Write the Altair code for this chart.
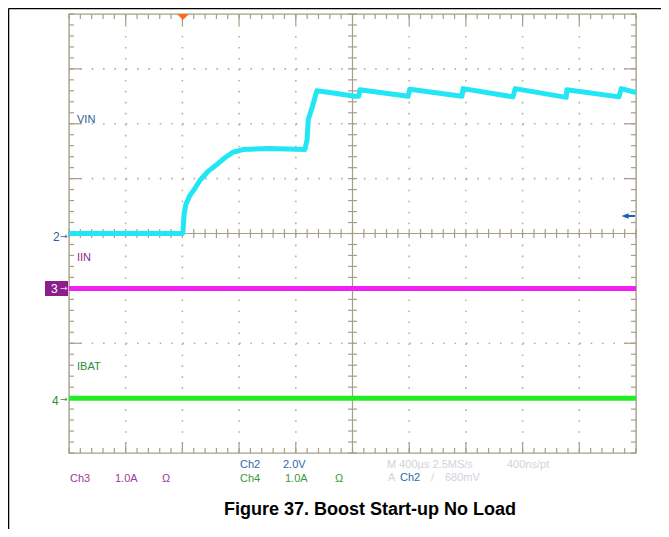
import altair as alt
import pandas as pd

# ---- data (scope divisions: time 0..10 div, amplitude -4..4 div) ----
VIN_T = [0.00, 2.00, 2.01, 2.03, 2.06, 2.13, 2.22, 2.31, 2.45, 2.61, 2.75, 2.89, 3.07,
         3.54, 4.16, 4.20, 4.22, 4.29, 4.37, 4.60, 5.04, 5.11, 5.13, 5.98, 6.01, 6.93,
         6.95, 7.83, 7.87, 8.77, 8.78, 9.70, 9.74, 10.00]
VIN_V = [0.00, 0.00, 0.04, 0.35, 0.53, 0.69, 0.82, 0.97, 1.13, 1.26, 1.38, 1.48, 1.53,
         1.55, 1.53, 1.71, 2.08, 2.30, 2.60, 2.57, 2.50, 2.50, 2.62, 2.50, 2.63, 2.50,
         2.64, 2.49, 2.64, 2.48, 2.62, 2.49, 2.64, 2.57]
IIN_T = [0.0, 2.5, 5.0, 7.5, 10.0]
IIN_V = [-1.0, -1.0, -1.0, -1.0, -1.0]
IBAT_T = [0.0, 2.5, 5.0, 7.5, 10.0]
IBAT_V = [-3.0, -3.0, -3.0, -3.0, -3.0]

GRID_X = [1, 2, 3, 4, 6, 7, 8, 9]
GRID_Y = [-3, -2, -1, 1, 2, 3]
MINOR_X = [i / 5 for i in range(51)]
MINOR_Y = [i / 5 - 4 for i in range(41)]

TITLE = "Figure 37. Boost Start-up No Load"

# ---- layout ----
W, H = 567, 439
X0, Y0 = 69, 14          # page position of the plot origin
PAD_L, PAD_T = X0 - 8, Y0 - 8
PAD_R, PAD_B = 653 - PAD_L - W, 521 - PAD_T - H

TAN = "#a69f88"
DOT = "#b9b19c"
CYAN = "#22e6f4"
MAGENTA = "#f21ff2"
GREEN = "#22ec22"
FONT = "Liberation Sans"

XS = alt.Scale(domain=[0, 10], nice=False, zero=False)
YS = alt.Scale(domain=[-4, 4], nice=False, zero=False)
ONE = pd.DataFrame({"a": [0]})


def X(f):
    return alt.X(f + ":Q", scale=XS, axis=None)


def Y(f):
    return alt.Y(f + ":Q", scale=YS, axis=None)


def label(text, px, py, color, size=11, weight="normal", align="left", font=FONT):
    return alt.Chart(ONE).mark_text(
        text=text, align=align, baseline="middle", fontSize=size,
        fontWeight=weight, font=font, color=color
    ).encode(x=alt.value(px - X0), y=alt.value(py - Y0))


def prule(x1, y1, x2, y2, color="black", width=1.0):
    return alt.Chart(ONE).mark_rule(color=color, strokeWidth=width).encode(
        x=alt.value(x1 - X0), x2=alt.value(x2 - X0),
        y=alt.value(y1 - Y0), y2=alt.value(y2 - Y0))


layers = []

# dotted grid
gx = pd.DataFrame({"x": GRID_X})
gy = pd.DataFrame({"y": GRID_Y})
layers.append(alt.Chart(gx).mark_rule(color=DOT, strokeWidth=1.6, strokeDash=[1.6, 9.38]).encode(
    x=X("x"), y=alt.value(0), y2=alt.value(H)))
layers.append(alt.Chart(gy).mark_rule(color=DOT, strokeWidth=1.6, strokeDash=[1.6, 9.74]).encode(
    y=Y("y"), x=alt.value(0), x2=alt.value(W)))

# center cross
layers.append(alt.Chart(pd.DataFrame({"x": [5]})).mark_rule(color=TAN, strokeWidth=1.2).encode(
    x=X("x"), y=alt.value(0), y2=alt.value(H)))
layers.append(alt.Chart(pd.DataFrame({"y": [0]})).mark_rule(color=TAN, strokeWidth=1.2).encode(
    y=Y("y"), x=alt.value(0), x2=alt.value(W)))

mx = pd.DataFrame({"x": MINOR_X})
my = pd.DataFrame({"y": MINOR_Y})
# ticks on the center cross
layers.append(alt.Chart(mx).mark_rule(color=TAN, strokeWidth=1.2).encode(
    x=X("x"), y=alt.value(H / 2 - 4.5), y2=alt.value(H / 2 + 4.5)))
layers.append(alt.Chart(my).mark_rule(color=TAN, strokeWidth=1.2).encode(
    y=Y("y"), x=alt.value(W / 2 - 4.5), x2=alt.value(W / 2 + 4.5)))
# minor ticks on the border
layers.append(alt.Chart(mx).mark_rule(color=TAN, strokeWidth=1.2).encode(
    x=X("x"), y=alt.value(0), y2=alt.value(5)))
layers.append(alt.Chart(mx).mark_rule(color=TAN, strokeWidth=1.2).encode(
    x=X("x"), y=alt.value(H - 5), y2=alt.value(H)))
layers.append(alt.Chart(my).mark_rule(color=TAN, strokeWidth=1.2).encode(
    y=Y("y"), x=alt.value(0), x2=alt.value(5)))
layers.append(alt.Chart(my).mark_rule(color=TAN, strokeWidth=1.2).encode(
    y=Y("y"), x=alt.value(W - 5), x2=alt.value(W)))
# major ticks on the border
layers.append(alt.Chart(gx).mark_rule(color=TAN, strokeWidth=1.2).encode(
    x=X("x"), y=alt.value(0), y2=alt.value(11)))
layers.append(alt.Chart(gx).mark_rule(color=TAN, strokeWidth=1.2).encode(
    x=X("x"), y=alt.value(H - 11), y2=alt.value(H)))
layers.append(alt.Chart(gy).mark_rule(color=TAN, strokeWidth=1.2).encode(
    y=Y("y"), x=alt.value(0), x2=alt.value(12)))
layers.append(alt.Chart(gy).mark_rule(color=TAN, strokeWidth=1.2).encode(
    y=Y("y"), x=alt.value(W - 12), x2=alt.value(W)))

# traces
for t, v, col in [(IBAT_T, IBAT_V, GREEN), (IIN_T, IIN_V, MAGENTA), (VIN_T, VIN_V, CYAN)]:
    df = pd.DataFrame({"t": t, "v": v, "i": range(len(t))})
    layers.append(alt.Chart(df).mark_line(color=col, strokeWidth=5, strokeJoin="round").encode(
        x=X("t"), y=Y("v"), order="i:Q"))

# trigger position marker
layers.append(alt.Chart(ONE).mark_point(
    shape="M-1,-0.5L1,-0.5L0,0.5Z", size=140, filled=True, color="#ff6a1a", opacity=1
).encode(x=alt.value(183 - X0), y=alt.value(3)))

# trigger level arrow (right side)
layers.append(prule(627, 216, 635, 216, "#1f5fb0", 2))
layers.append(alt.Chart(ONE).mark_point(
    shape="M-1,0L1,-0.8L1,0.8Z", size=50, filled=True, color="#1f5fb0", opacity=1
).encode(x=alt.value(625 - X0), y=alt.value(216 - Y0)))

# channel labels / markers
layers.append(label("VIN", 77, 120, "#2b5c94"))
layers.append(label("IIN", 77, 258, "#8d2d8d"))
layers.append(label("IBAT", 77, 367, "#2e8b3a"))
layers.append(label("2", 53, 237, "#2d5f9a", size=12))
layers.append(label("→", 60, 236, "#2d5f9a", size=9, font="DejaVu Sans"))
layers.append(alt.Chart(ONE).mark_rect(color="#8b1e8b").encode(
    x=alt.value(45 - X0), x2=alt.value(68 - X0), y=alt.value(281 - Y0), y2=alt.value(296 - Y0)))
layers.append(label("3", 51, 289, "white", size=12))
layers.append(label("→", 60, 288, "#e8d8e8", size=9, font="DejaVu Sans"))
layers.append(label("4", 52, 401, "#3b8b3b", size=12))
layers.append(label("→", 60, 399, "#3b8b3b", size=9, font="DejaVu Sans"))

# readouts
layers.append(label("Ch2", 240, 465, "#2e6aa8"))
layers.append(label("2.0V", 283, 465, "#2e6aa8"))
layers.append(label("Ch3", 70, 479, "#9a3a9a"))
layers.append(label("1.0A", 115, 479, "#9a3a9a"))
layers.append(label("Ω", 162, 479, "#9a3a9a"))
layers.append(label("Ch4", 240, 479, "#3a9a3a"))
layers.append(label("1.0A", 285, 479, "#3a9a3a"))
layers.append(label("Ω", 335, 479, "#3a9a3a"))
layers.append(label("M 400µs 2.5MS/s", 387, 465, "#d2d3da"))
layers.append(label("400ns/pt", 507, 465, "#d2d3da"))
layers.append(label("A", 388, 478, "#d2d3da"))
layers.append(label("Ch2", 400, 478, "#2e6aa8"))
layers.append(label("/", 431, 478, "#d2d3da"))
layers.append(label("680mV", 445, 478, "#d2d3da"))

# figure title
layers.append(label(TITLE, 370, 510, "black", size=18, weight="bold", align="center"))

# outer document frame
layers.append(prule(8.5, 8.5, 661, 8.5, "black", 1.5))
layers.append(prule(8.5, 8.5, 8.5, 529, "black", 1.5))

chart = alt.layer(*layers).properties(
    width=W, height=H,
    autosize=alt.AutoSizeParams(type="none"),
    padding={"left": PAD_L, "top": PAD_T, "right": PAD_R, "bottom": PAD_B},
).configure_view(stroke=TAN, strokeWidth=1.4)

chart.save("out.html", embed_options={"renderer": "svg", "actions": False})
